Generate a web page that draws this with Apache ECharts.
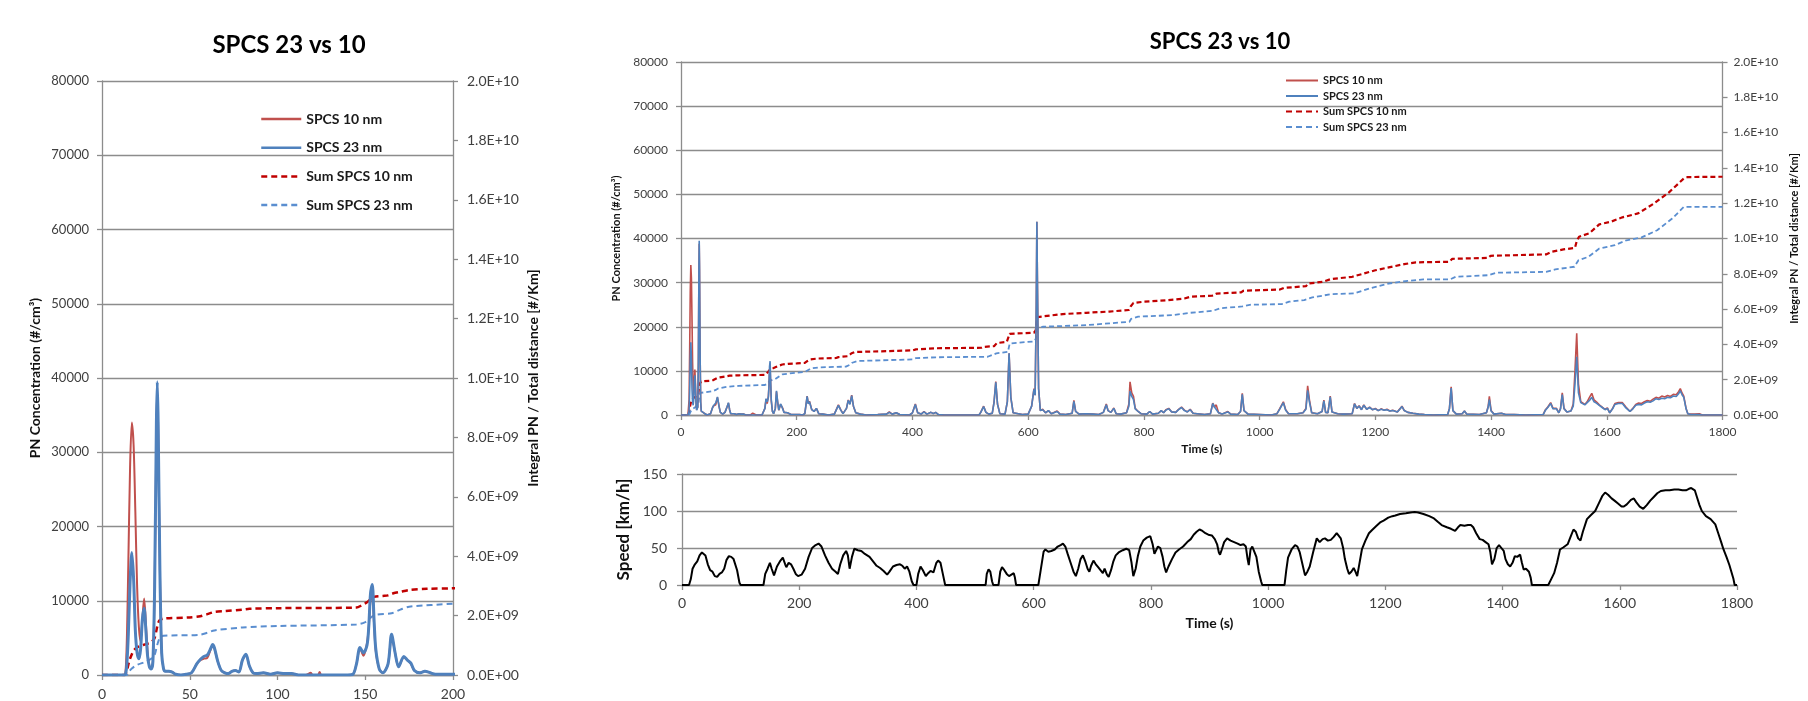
<!DOCTYPE html>
<html>
<head>
<meta charset="utf-8">
<title>SPCS 23 vs 10</title>
<script src="https://cdn.jsdelivr.net/npm/echarts@6/dist/echarts.min.js"></script>
<style>
  html, body { margin: 0; padding: 0; background: #fff; }
  #chart { width: 1808px; height: 701px; }
</style>
</head>
<body>
<div id="chart"></div>
<script>
// time (s) and PN concentration (#/cm3) for both sizes
var pnTime = [
  0, 12, 13, 14, 15, 16, 17, 18, 19, 20,
  21, 22, 23, 24, 25, 26, 27, 28, 29, 30,
  31, 31.5, 32, 33, 34, 35, 36, 38, 40, 42,
  45, 48, 51, 54, 56, 58, 60, 62, 63, 64,
  66, 68, 70, 72, 74, 76, 78, 80, 82, 84,
  86, 88, 92, 96, 100, 104, 108, 112, 116, 119,
  120, 123, 124, 125, 130, 140, 143, 145, 147, 149,
  151, 152, 153, 154, 155, 156, 158, 160, 163, 165,
  167, 169, 172, 174, 176, 178, 181, 184, 187, 190,
  195, 200, 205, 210, 214, 218, 220, 222, 226, 230,
  234, 238, 245, 255, 265, 272, 276, 280, 286, 289,
  292, 295, 298, 302, 310, 320, 340, 355, 360, 365,
  372, 378, 395, 400, 405, 409, 415, 420, 425, 432,
  436, 440, 445, 455, 515, 518, 523, 527, 532, 538,
  541, 544, 547, 551, 560, 564, 567, 570, 574, 590,
  600, 606, 610, 612, 614, 615, 616, 618, 621, 625,
  630, 635, 640, 650, 655, 665, 676, 679, 682, 688,
  700, 712, 722, 730, 735, 738, 743, 748, 752, 760,
  770, 774, 776, 779, 782, 785, 790, 795, 805, 810,
  815, 825, 830, 834, 838, 843, 848, 855, 860, 865,
  870, 875, 880, 885, 892, 905, 915, 919, 922, 925,
  929, 935, 945, 950, 962, 967, 970, 973, 980, 1000,
  1020, 1030, 1035, 1041, 1045, 1050, 1065, 1075, 1080, 1083,
  1086, 1090, 1100, 1108, 1111, 1114, 1118, 1122, 1125, 1135,
  1145, 1160, 1164, 1168, 1172, 1176, 1180, 1185, 1190, 1195,
  1200, 1205, 1210, 1215, 1220, 1225, 1230, 1238, 1243, 1246,
  1250, 1256, 1265, 1275, 1285, 1300, 1325, 1328, 1331, 1334,
  1340, 1350, 1354, 1358, 1380, 1392, 1395, 1397, 1400, 1405,
  1418, 1425, 1440, 1460, 1490, 1494, 1498, 1503, 1507, 1513,
  1517, 1520, 1523, 1526, 1531, 1538, 1542, 1545, 1548, 1551,
  1555, 1558, 1562, 1566, 1570, 1574, 1578, 1582, 1587, 1592,
  1597, 1601, 1605, 1610, 1614, 1620, 1627, 1633, 1640, 1645,
  1650, 1655, 1660, 1665, 1670, 1675, 1680, 1685, 1690, 1695,
  1700, 1705, 1710, 1715, 1720, 1724, 1727, 1730, 1733, 1737,
  1740, 1745, 1748, 1752, 1760, 1765, 1800
];
var pn10 = [
  0, 0, 0, 3500, 15000, 28000, 34000, 31000, 22000, 12000,
  6500, 4500, 7500, 10300, 7000, 3000, 1200, 800, 1800, 12000,
  33000, 38800, 33000, 14000, 3000, 900, 500, 500, 400, 100,
  0, 100, 300, 1500, 2000, 2200, 2300, 3500, 4000, 3600,
  1800, 600, 300, 200, 500, 600, 400, 2000, 2700, 1200,
  300, 200, 300, 100, 300, 200, 200, 0, 0, 300,
  0, 0, 400, 0, 0, 0, 100, 1500, 3600, 2600,
  4300, 6500, 10000, 10500, 7000, 3200, 800, 300, 1500, 5300,
  3000, 1100, 2400, 2000, 1500, 600, 300, 500, 300, 100,
  100, 100, 100, 0, 300, 4300, 2600, 3100, 1200, 800,
  1500, 300, 200, 0, 200, 2300, 1200, 300, 1500, 3400,
  2500, 4500, 2000, 500, 200, 0, 100, 200, 700, 200,
  500, 100, 0, 500, 2500, 500, 200, 800, 200, 600,
  300, 600, 100, 0, 0, 600, 2000, 600, 200, 400,
  3000, 7600, 2500, 300, 200, 3000, 14000, 4000, 500, 100,
  200, 2000, 6000, 4500, 25000, 43800, 30000, 6000, 1000, 1300,
  500, 1000, 300, 900, 200, 100, 400, 3300, 800, 200,
  300, 200, 100, 600, 2500, 1000, 600, 1600, 300, 200,
  500, 2500, 7500, 5000, 4200, 1500, 800, 300, 200, 800,
  200, 400, 1000, 500, 1200, 1500, 700, 600, 1300, 1800,
  1100, 700, 1300, 400, 300, 100, 300, 2700, 1800, 2300,
  500, 200, 800, 200, 100, 800, 4900, 1000, 200, 100,
  0, 300, 1500, 3000, 1200, 300, 300, 500, 1500, 6600,
  3500, 500, 300, 800, 3400, 600, 500, 4300, 700, 300,
  200, 300, 2600, 1500, 2100, 1200, 2300, 1300, 1800, 1200,
  1500, 1000, 1400, 1100, 1300, 900, 1100, 700, 1500, 2000,
  1000, 600, 400, 200, 100, 0, 100, 1500, 6400, 1000,
  200, 300, 900, 200, 100, 500, 2000, 4200, 1000, 200,
  400, 100, 100, 0, 100, 1200, 1800, 2800, 1500, 1500,
  500, 1500, 5000, 1500, 700, 900, 2500, 10000, 18500, 7000,
  3000, 3200, 2400, 3000, 4000, 4900, 3400, 3000, 2300, 1800,
  1300, 1600, 500, 1500, 2600, 2800, 2800, 1800, 800, 1500,
  2400, 2700, 2600, 3000, 3300, 3100, 3600, 4000, 3800, 4300,
  4100, 4400, 4200, 4700, 4600, 5300, 6000, 5000, 4300, 1500,
  300, 200, 500, 200, 300, 0, 0
];
var pn23 = [
  0, 0, 0, 1000, 5500, 12500, 16500, 13000, 6000, 3000,
  2200, 3500, 7500, 9000, 6000, 2500, 1100, 800, 1800, 12000,
  34000, 39500, 34000, 14000, 3000, 900, 500, 500, 400, 100,
  0, 100, 300, 1500, 2100, 2500, 2700, 3600, 4100, 3700,
  1800, 600, 300, 200, 500, 600, 400, 2000, 2800, 1200,
  300, 200, 300, 100, 300, 200, 200, 0, 0, 0,
  0, 0, 0, 0, 0, 0, 100, 1500, 3700, 3000,
  4000, 6500, 11000, 12200, 7500, 3500, 800, 300, 1500, 5500,
  3000, 1100, 2500, 2000, 1600, 600, 300, 500, 300, 100,
  100, 100, 100, 0, 300, 4200, 2500, 3000, 1200, 800,
  1500, 300, 200, 0, 200, 2200, 1100, 300, 1500, 3300,
  2400, 4400, 2000, 500, 200, 0, 100, 200, 600, 200,
  500, 100, 0, 500, 2400, 500, 200, 700, 200, 600,
  300, 600, 100, 0, 0, 600, 1900, 600, 200, 400,
  2800, 7400, 2400, 300, 200, 3000, 14000, 4000, 500, 100,
  200, 2000, 5800, 4500, 25000, 43800, 30000, 6000, 1000, 1200,
  500, 1000, 300, 800, 200, 100, 400, 3100, 800, 200,
  300, 200, 100, 600, 2300, 1000, 600, 1500, 300, 200,
  500, 2000, 5400, 4200, 3500, 1400, 800, 300, 200, 800,
  200, 400, 1000, 500, 1100, 1400, 700, 600, 1200, 1700,
  1000, 700, 1200, 400, 300, 100, 300, 2600, 1800, 2200,
  500, 200, 700, 200, 100, 800, 4700, 1000, 200, 100,
  0, 300, 1400, 2800, 1100, 300, 300, 500, 1300, 5600,
  3000, 500, 300, 800, 3200, 600, 500, 4100, 700, 300,
  200, 300, 2500, 1500, 2000, 1200, 2200, 1300, 1700, 1200,
  1400, 1000, 1300, 1100, 1200, 900, 1000, 700, 1400, 1900,
  1000, 600, 400, 200, 100, 0, 100, 1400, 6100, 1000,
  200, 300, 900, 200, 100, 500, 1800, 3500, 900, 200,
  400, 100, 100, 0, 100, 1100, 1700, 2600, 1400, 1400,
  500, 1400, 4600, 1400, 700, 900, 2000, 7000, 13200, 5000,
  2800, 3000, 2300, 2800, 3300, 4000, 3000, 2700, 2200, 1700,
  1200, 1500, 500, 1400, 2400, 2600, 2600, 1600, 800, 1400,
  2200, 2400, 2300, 2700, 3000, 2900, 3200, 3700, 3500, 3800,
  3700, 4000, 3900, 4300, 4200, 4800, 5500, 4600, 4000, 1400,
  300, 100, 200, 100, 100, 0, 0
];

// cumulative PN / distance, in units of 1E+09 #/km
var sum10Time = [
  0, 13, 14, 15, 16, 17, 18, 20, 22, 25,
  28, 30, 31, 32, 33, 35, 50, 56, 60, 64,
  70, 80, 84, 100, 145, 148, 151, 153, 155, 160,
  163, 166, 170, 175, 185, 200, 214, 218, 224, 236,
  268, 272, 288, 295, 300, 360, 400, 406, 440, 520,
  524, 541, 546, 563, 568, 610, 613, 616, 619, 660,
  700, 740, 774, 777, 782, 800, 840, 870, 880, 918,
  926, 968, 972, 1035, 1042, 1080, 1084, 1110, 1123, 1160,
  1200, 1250, 1270, 1328, 1333, 1395, 1399, 1495, 1505, 1525,
  1545, 1548, 1552, 1570, 1587, 1607, 1627, 1654, 1680, 1707,
  1733, 1740, 1800
];
var sum10 = [
  0, 0, 0.1, 0.35, 0.55, 0.7, 0.82, 0.93, 0.98, 1.04,
  1.1, 1.25, 1.5, 1.75, 1.85, 1.9, 1.94, 1.98, 2.05, 2.12,
  2.15, 2.2, 2.23, 2.25, 2.27, 2.35, 2.45, 2.55, 2.63, 2.66,
  2.68, 2.75, 2.8, 2.86, 2.9, 2.92, 2.95, 3.05, 3.15, 3.2,
  3.23, 3.28, 3.33, 3.5, 3.57, 3.62, 3.66, 3.72, 3.78, 3.81,
  3.86, 3.9, 4.08, 4.14, 4.6, 4.66, 4.8, 5.55, 5.66, 5.72,
  5.79, 5.86, 5.95, 6.15, 6.35, 6.42, 6.5, 6.6, 6.7, 6.76,
  6.88, 6.95, 7.04, 7.11, 7.2, 7.3, 7.45, 7.55, 7.7, 7.83,
  8.2, 8.55, 8.65, 8.68, 8.85, 8.9, 9.02, 9.1, 9.25, 9.38,
  9.47, 9.85, 10.1, 10.3, 10.8, 10.95, 11.2, 11.42, 11.95, 12.6,
  13.4, 13.48, 13.5
];
var sum23Time = [
  0, 14, 15, 17, 20, 25, 28, 30, 31, 32,
  33, 35, 55, 60, 64, 80, 100, 145, 150, 153,
  156, 165, 170, 175, 200, 215, 218, 225, 240, 285,
  292, 296, 305, 400, 406, 440, 530, 545, 565, 568,
  610, 613, 616, 625, 700, 740, 775, 778, 790, 850,
  880, 919, 932, 970, 985, 1038, 1051, 1077, 1091, 1124,
  1164, 1190, 1223, 1256, 1283, 1329, 1339, 1395, 1409, 1495,
  1511, 1544, 1551, 1568, 1587, 1614, 1634, 1660, 1687, 1713,
  1733, 1800
];
var sum23 = [
  0, 0, 0.08, 0.22, 0.34, 0.45, 0.55, 0.68, 0.9, 1.12,
  1.25, 1.32, 1.35, 1.42, 1.5, 1.6, 1.65, 1.7, 1.78, 1.93,
  2.03, 2.08, 2.2, 2.3, 2.4, 2.45, 2.55, 2.64, 2.7, 2.74,
  2.85, 2.96, 3.06, 3.15, 3.22, 3.27, 3.3, 3.49, 3.58, 4.05,
  4.17, 4.3, 4.9, 5.0, 5.09, 5.19, 5.28, 5.45, 5.57, 5.66,
  5.79, 5.9, 6.05, 6.15, 6.25, 6.28, 6.42, 6.51, 6.66, 6.85,
  6.89, 7.17, 7.45, 7.6, 7.68, 7.68, 7.83, 7.92, 8.06, 8.11,
  8.25, 8.4, 8.77, 8.96, 9.43, 9.62, 9.9, 10.06, 10.47, 11.13,
  11.79, 11.79
];

// vehicle speed (km/h)
var speedTime = [
  0, 12, 15, 18, 22, 26, 30, 34, 37, 40,
  44, 48, 52, 56, 60, 64, 68, 72, 76, 80,
  84, 88, 91, 94, 98, 100, 139, 142, 146, 150,
  153, 157, 162, 168, 172, 176, 178, 182, 186, 190,
  194, 198, 204, 210, 216, 222, 228, 233, 238, 244,
  250, 256, 262, 266, 270, 275, 280, 283, 286, 290,
  294, 300, 306, 312, 320, 326, 332, 338, 344, 350,
  354, 360, 366, 372, 376, 380, 384, 388, 392, 395,
  400, 403, 407, 411, 416, 420, 424, 429, 434, 437,
  441, 445, 449, 518, 520, 523, 526, 529, 531, 540,
  543, 546, 550, 554, 558, 562, 566, 568, 570, 608,
  612, 617, 620, 625, 630, 636, 641, 646, 650, 654,
  658, 663, 668, 672, 676, 680, 684, 688, 692, 695,
  698, 702, 706, 710, 714, 718, 721, 725, 728, 732,
  736, 740, 745, 752, 758, 763, 767, 770, 774, 778,
  782, 787, 793, 799, 803, 806, 809, 812, 816, 820,
  823, 826, 830, 836, 842, 848, 855, 862, 868, 873,
  878, 883, 888, 893, 898, 904, 909, 913, 916, 918,
  921, 925, 930, 936, 942, 948, 953, 958, 962, 965,
  967, 970, 973, 976, 980, 984, 988, 990, 1028, 1031,
  1034, 1040, 1046, 1050, 1054, 1058, 1063, 1067, 1071, 1077,
  1083, 1088, 1093, 1097, 1102, 1107, 1112, 1117, 1120, 1124,
  1128, 1131, 1135, 1138, 1142, 1146, 1149, 1152, 1156, 1160,
  1166, 1172, 1177, 1185, 1192, 1197, 1205, 1212, 1217, 1225,
  1235, 1243, 1250, 1256, 1265, 1275, 1283, 1290, 1296, 1305,
  1312, 1319, 1324, 1328, 1335, 1341, 1346, 1350, 1355, 1361,
  1366, 1371, 1376, 1379, 1382, 1386, 1390, 1394, 1398, 1402,
  1405, 1409, 1413, 1417, 1421, 1425, 1430, 1433, 1436, 1440,
  1445, 1448, 1450, 1478, 1483, 1488, 1493, 1498, 1504, 1511,
  1516, 1521, 1525, 1529, 1533, 1537, 1544, 1550, 1558, 1564,
  1570, 1575, 1580, 1586, 1591, 1597, 1603, 1607, 1612, 1619,
  1624, 1628, 1634, 1640, 1646, 1652, 1658, 1664, 1670, 1678,
  1685, 1693, 1700, 1707, 1713, 1718, 1722, 1725, 1728, 1732,
  1736, 1740, 1747, 1755, 1763, 1768, 1773, 1777, 1782, 1787,
  1790, 1794, 1796, 1800
];
var speed = [
  0, 0, 8, 22, 28, 32, 40, 44, 44.5, 40,
  28, 20, 18, 12, 11, 15, 17, 22, 34, 39,
  38, 35, 33, 20, 3, 0, 0, 15, 22, 30,
  22, 13, 25, 33, 37, 28, 24, 30, 28, 22,
  15, 12, 14, 22, 38, 50, 54, 56, 52, 40,
  30, 22, 18, 15, 28, 40, 46, 40, 22, 38,
  49, 47, 46, 42, 38, 32, 26, 23, 19, 14,
  18, 25, 27, 28, 26, 22, 25, 18, 5, 0,
  0, 15, 25, 20, 12, 16, 19, 17, 30, 33,
  30, 15, 0, 0, 15, 21, 18, 5, 0, 0,
  18, 24, 20, 15, 12, 14, 16, 10, 0, 0,
  20, 45, 48, 45, 46, 48, 52, 54, 56, 52,
  42, 30, 18, 12, 22, 35, 40, 32, 22, 18,
  26, 33, 28, 24, 20, 16, 22, 14, 11, 20,
  32, 40, 44, 47, 49, 47, 30, 12, 22, 40,
  52, 60, 64, 66, 55, 42, 40, 52, 50, 38,
  25, 17, 25, 35, 44, 48, 52, 58, 62, 68,
  72, 75, 73, 70, 68, 67, 62, 55, 44, 41,
  48, 58, 63, 60, 58, 56, 54, 55, 52, 35,
  27, 48, 52, 50, 38, 18, 5, 0, 0, 20,
  37, 48, 54, 52, 44, 30, 13, 18, 25, 45,
  63, 58, 62, 63, 60, 61, 65, 70, 68, 63,
  50, 35, 22, 15, 18, 23, 18, 12, 30, 48,
  60, 70, 74, 80, 85, 87, 91, 93, 94, 96,
  97, 98, 98.5, 98, 96, 93, 90, 85, 81, 78,
  76, 73, 78, 81, 80, 81, 81, 78, 70, 62,
  61, 58, 55, 45, 28, 35, 50, 54, 50, 46,
  35, 28, 25, 30, 39, 38, 41, 30, 21, 22,
  18, 10, 0, 0, 8, 16, 30, 48, 51, 55,
  65, 75, 72, 63, 60, 72, 89, 94, 100, 110,
  120, 125, 122, 117, 114, 110, 106, 106, 109, 115,
  117, 112, 106, 103, 108, 114, 119, 124, 127, 128,
  128, 129, 129, 128, 128, 130, 131, 132, 128, 118,
  108, 100, 93, 89, 82, 70, 58, 48, 38, 27,
  19, 8, 0, 0
];

var legendNames = ['SPCS 10 nm', 'SPCS 23 nm', 'Sum SPCS 10 nm', 'Sum SPCS 23 nm'];

var FONT = 'Lato, "Open Sans", sans-serif';
var GRAY = '#8c8c8c';
var LABEL = '#404040';
var RED = '#C0504D';
var BLUE = '#4F81BD';
var DARKRED = '#C00000';
var LIGHTBLUE = '#5A8ED0';

function pairs(ts, vs, k) {
    return ts.map(function (t, i) { return [t, vs[i] * (k || 1)]; });
}

// plain numbers, no thousands separator
function plain(v) {
    return String(v);
}

// 2.0E+10 style labels
function sci(v) {
    if (v === 0) return '0.0E+00';
    var e = Math.floor(Math.log10(v) + 1e-9);
    var m = v / Math.pow(10, e);
    return m.toFixed(1) + 'E+' + (e < 10 ? '0' + e : e);
}

function xAxisOf(grid, max, interval, size, margin) {
    return {
        gridIndex: grid, type: 'value', min: 0, max: max, interval: interval,
        axisLine: { show: true, lineStyle: { color: GRAY, width: 1.3 } },
        axisTick: { show: true, length: 5, lineStyle: { color: GRAY, width: 1.3 } },
        splitLine: { show: false },
        axisLabel: { fontFamily: FONT, fontSize: size, color: LABEL, margin: margin, formatter: plain }
    };
}

function yAxisOf(grid, pos, max, interval, size, margin, split) {
    return {
        gridIndex: grid, type: 'value', position: pos, min: 0, max: max, interval: interval,
        axisLine: { show: true, lineStyle: { color: GRAY, width: 1.3 } },
        axisTick: { show: true, length: 5, lineStyle: { color: GRAY, width: 1.3 } },
        splitLine: { show: split, lineStyle: { color: GRAY, width: 1.3 } },
        axisLabel: { fontFamily: FONT, fontSize: size, color: LABEL, margin: margin, formatter: plain },
        nameLocation: 'middle', nameRotate: 90
    };
}

function nameStyle(size) {
    return { fontFamily: FONT, fontSize: size, fontWeight: 'bold', color: '#111' };
}

var xAxes = [
    xAxisOf(0, 200, 50, 14, 12),
    xAxisOf(1, 1800, 200, 12, 11),
    xAxisOf(2, 1800, 200, 14, 11)
];
xAxes[1].name = 'Time (s)';
xAxes[1].nameLocation = 'middle';
xAxes[1].nameGap = 24;
xAxes[1].nameTextStyle = nameStyle(12);
xAxes[2].name = 'Time (s)';
xAxes[2].nameLocation = 'middle';
xAxes[2].nameGap = 31;
xAxes[2].nameTextStyle = nameStyle(14);

var yAxes = [
    yAxisOf(0, 'left', 80000, 10000, 13, 13, true),
    yAxisOf(0, 'right', 20, 2, 14, 14, false),
    yAxisOf(1, 'left', 80000, 10000, 12, 13, true),
    yAxisOf(1, 'right', 20, 2, 12, 11, false),
    yAxisOf(2, 'left', 150, 50, 14, 15, true)
];
yAxes[1].axisLabel.formatter = function (v) { return sci(v * 1e9); };
yAxes[3].axisLabel.formatter = function (v) { return sci(v * 1e9); };
yAxes[0].name = 'PN Concentration (#/cm³)';
yAxes[0].nameGap = 60;
yAxes[0].nameTextStyle = nameStyle(14);
yAxes[1].name = 'Integral PN / Total distance [#/Km]';
yAxes[1].nameGap = 73;
yAxes[1].nameTextStyle = nameStyle(14);
yAxes[2].name = 'PN Concentration (#/cm³)';
yAxes[2].nameGap = 51;
yAxes[2].nameTextStyle = nameStyle(11);
yAxes[3].name = 'Integral PN / Total distance [#/Km]';
yAxes[3].nameGap = 62;
yAxes[3].nameTextStyle = nameStyle(11);
yAxes[4].name = 'Speed [km/h]';
yAxes[4].nameGap = 45;
yAxes[4].nameTextStyle = nameStyle(17);

function lineSeries(name, xi, yi, data, color, width, dash, smooth) {
    return {
        name: name, type: 'line', xAxisIndex: xi, yAxisIndex: yi,
        data: data, symbol: 'none', smooth: smooth, animation: false,
        itemStyle: { color: color },
        lineStyle: { color: color, width: width, type: dash || 'solid' }
    };
}

var series = [
    // left chart: first 200 s
    lineSeries('Sum SPCS 10 nm', 0, 1, pairs(sum10Time, sum10), DARKRED, 2.5, [6, 4], 0.3),
    lineSeries('Sum SPCS 23 nm', 0, 1, pairs(sum23Time, sum23), LIGHTBLUE, 2, [6, 4], 0.3),
    lineSeries('SPCS 10 nm', 0, 0, pairs(pnTime, pn10), RED, 2, null, 0.3),
    lineSeries('SPCS 23 nm', 0, 0, pairs(pnTime, pn23), BLUE, 3, null, 0.3),
    // right chart: whole cycle
    lineSeries('Sum SPCS 10 nm', 1, 3, pairs(sum10Time, sum10), DARKRED, 2.2, [5, 3], false),
    lineSeries('Sum SPCS 23 nm', 1, 3, pairs(sum23Time, sum23), LIGHTBLUE, 1.8, [5, 3], false),
    lineSeries('SPCS 10 nm', 1, 2, pairs(pnTime, pn10), RED, 1.6, null, false),
    lineSeries('SPCS 23 nm', 1, 2, pairs(pnTime, pn23), BLUE, 1.6, null, false),
    // speed trace
    lineSeries('Speed', 2, 4, pairs(speedTime, speed), '#000', 2, null, false)
];

var option = {
    animation: false,
    backgroundColor: '#fff',
    grid: [
        { left: 102, top: 81, width: 351, height: 596 },
        { left: 681, top: 62, width: 1056, height: 353 },
        { left: 682, top: 474, width: 1055, height: 111 }
    ],
    xAxis: xAxes,
    yAxis: yAxes,
    legend: [
        {
            data: legendNames, orient: 'vertical', left: 260, top: 112, padding: 0,
            itemWidth: 40, itemHeight: 14, itemGap: 14.7,
            itemStyle: { opacity: 0 },
            lineStyle: { width: 2.5 },
            textStyle: { fontFamily: FONT, fontSize: 14, fontWeight: 'bold', color: '#1a1a1a' }
        },
        {
            data: legendNames, orient: 'vertical', left: 1285, top: 75, padding: 0,
            itemWidth: 32, itemHeight: 10, itemGap: 4.5,
            itemStyle: { opacity: 0 },
            lineStyle: { width: 2 },
            textStyle: { fontFamily: FONT, fontSize: 11, fontWeight: 'bold', color: '#1a1a1a' }
        }
    ],
    graphic: [
        {
            type: 'text', x: 289, y: 45,
            style: {
                text: 'SPCS 23 vs 10', fill: '#000', font: 'bold 24px ' + FONT,
                align: 'center', verticalAlign: 'middle',
                textAlign: 'center', textVerticalAlign: 'middle'
            }
        },
        {
            type: 'text', x: 1220, y: 42,
            style: {
                text: 'SPCS 23 vs 10', fill: '#000', font: 'bold 22px ' + FONT,
                align: 'center', verticalAlign: 'middle',
                textAlign: 'center', textVerticalAlign: 'middle'
            }
        }
    ],
    series: series
};

var myChart = echarts.init(document.getElementById('chart'));
myChart.setOption(option);
window.addEventListener('resize', function () {
    myChart.resize();
});
</script>
</body>
</html>
